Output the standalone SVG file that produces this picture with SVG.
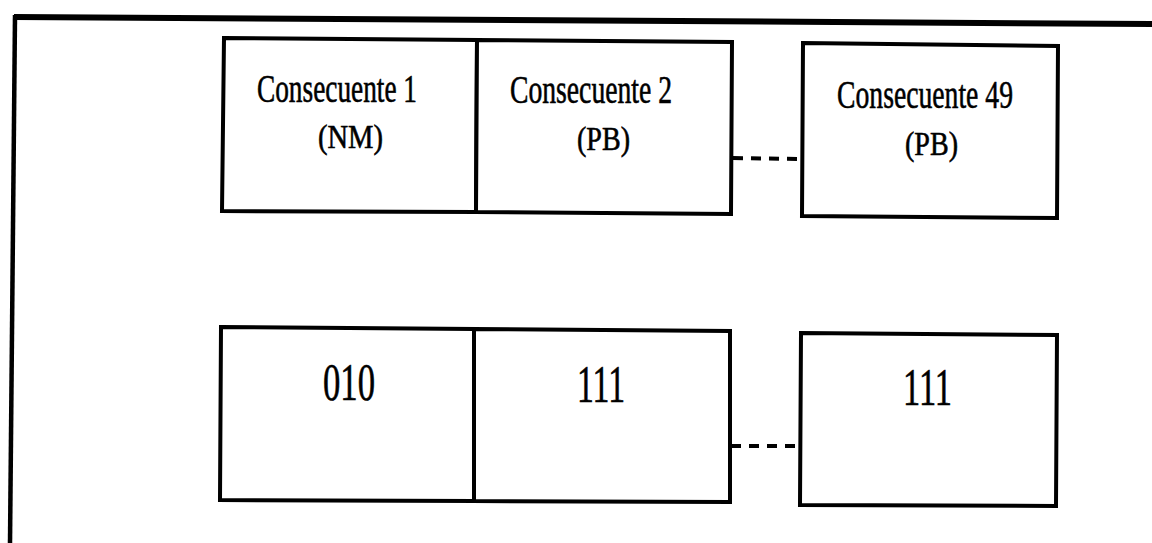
<svg xmlns="http://www.w3.org/2000/svg" width="1152" height="543" viewBox="0 0 1152 543">
<style>
.box{fill:#fff;stroke:#000;stroke-width:4;stroke-linejoin:miter}
.frame{fill:none;stroke:#000}
.t{font-family:"Liberation Serif","Times New Roman",serif;fill:#000;stroke:#000;stroke-width:0.6}
.dash{stroke:#000;stroke-width:4;stroke-dasharray:10 8;fill:none}
</style>
<rect x="0" y="0" width="1152" height="543" fill="#fff"/>
<g id="frame">
<path class="frame" stroke-width="6" d="M14,17 L1152,24"/>
<path class="frame" stroke-width="4.5" d="M15,15 L10,543"/>
</g>
<g id="connectors">
<path class="dash" d="M733,158 L802,159"/>
<path class="dash" d="M731,446 L799,446"/>
</g>
<g id="cons1">
<polygon class="box" points="224,38 477,40 476,212 222,211"/>
<text class="t" x="257" y="102" font-size="40" textLength="160" lengthAdjust="spacingAndGlyphs">Consecuente 1</text>
<text class="t" x="318" y="148" font-size="34" textLength="65" lengthAdjust="spacingAndGlyphs">(NM)</text>
</g>
<g id="cons2">
<polygon class="box" points="477,40 732,42 731,214 476,212"/>
<text class="t" x="510" y="103" font-size="40" textLength="162" lengthAdjust="spacingAndGlyphs">Consecuente 2</text>
<text class="t" x="577" y="150" font-size="34" textLength="53" lengthAdjust="spacingAndGlyphs">(PB)</text>
</g>
<g id="cons49">
<polygon class="box" points="803,43 1058,46 1057,218 802,216"/>
<text class="t" x="837" y="108" font-size="40" textLength="176" lengthAdjust="spacingAndGlyphs">Consecuente 49</text>
<text class="t" x="905" y="155" font-size="34" textLength="53" lengthAdjust="spacingAndGlyphs">(PB)</text>
</g>
<g id="val1">
<polygon class="box" points="221,327 474,329 474,501 220,500"/>
<text class="t" x="323" y="400" font-size="52" textLength="52" lengthAdjust="spacingAndGlyphs">010</text>
</g>
<g id="val2">
<polygon class="box" points="474,329 730,331 730,502 474,501"/>
<text class="t" x="577" y="402" font-size="52" textLength="48" lengthAdjust="spacingAndGlyphs">111</text>
</g>
<g id="val49">
<polygon class="box" points="801,333 1057,335 1056,506 800,505"/>
<text class="t" x="903" y="405" font-size="52" textLength="49" lengthAdjust="spacingAndGlyphs">111</text>
</g>
</svg>
